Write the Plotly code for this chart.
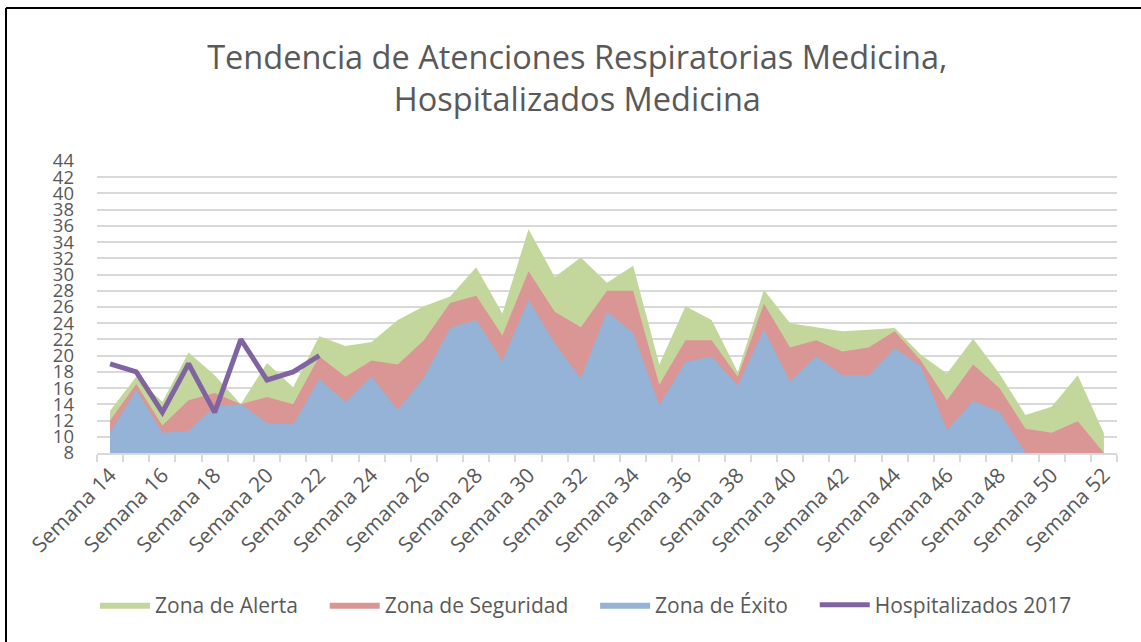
import plotly.graph_objects as go

weeks = [f"Semana {w}" for w in range(14, 53)]

alerta = [13.2, 17.4, 14.3, 20.4, 17.6, 14.0, 19.1, 16.1, 22.4, 21.2, 21.7, 24.4,
          26.1, 27.3, 30.9, 25.2, 35.6, 29.7, 32.1, 29.0, 31.1, 18.9, 26.1, 24.4,
          18.0, 28.1, 24.0, 23.5, 23.0, 23.2, 23.4, 20.1, 17.8, 22.1, 17.8, 12.7,
          13.7, 17.6, 10.4]
seguridad = [12.0, 16.5, 11.4, 14.5, 15.4, 14.0, 14.9, 14.0, 19.9, 17.4, 19.4, 18.9,
             21.9, 26.5, 27.4, 22.5, 30.4, 25.4, 23.5, 28.0, 28.0, 16.4, 21.9, 21.9,
             17.4, 26.4, 21.0, 21.9, 20.5, 21.0, 23.0, 19.4, 14.5, 18.9, 16.0, 11.0,
             10.5, 11.9, 8.0]
exito = [10.5, 15.8, 10.5, 10.7, 13.7, 14.0, 11.7, 11.5, 17.1, 14.3, 17.4, 13.3,
         17.3, 23.4, 24.4, 19.3, 26.9, 21.5, 17.2, 25.4, 22.8, 13.9, 19.2, 19.9,
         16.3, 23.2, 16.8, 19.9, 17.6, 17.6, 20.9, 18.7, 10.8, 14.4, 13.1, 8.0,
         8.0, 8.0, 8.0]
hosp_weeks = weeks[:9]
hospitalizados = [19, 18, 13, 19, 13, 22, 17, 18, 20]

tick_text = [w if i % 2 == 0 else "" for i, w in enumerate(weeks)]
y_ticks = list(range(8, 45, 2))

GRAY = "#595959"
FONT = "Open Sans"
PAD = "\u00a0" * 4

fig = go.Figure()
fig.add_trace(go.Scatter(x=weeks, y=alerta, name="Zona de Alerta" + PAD, mode="lines",
                         fill="tozeroy", fillcolor="#c3d69b", line=dict(width=0, color="#c3d69b")))
fig.add_trace(go.Scatter(x=weeks, y=seguridad, name="Zona de Seguridad" + PAD, mode="lines",
                         fill="tozeroy", fillcolor="#d99694", line=dict(width=0, color="#d99694")))
fig.add_trace(go.Scatter(x=weeks, y=exito, name="Zona de Éxito" + PAD, mode="lines",
                         fill="tozeroy", fillcolor="#95b3d7", line=dict(width=0, color="#95b3d7")))
fig.add_trace(go.Scatter(x=hosp_weeks, y=hospitalizados, name="Hospitalizados 2017", mode="lines",
                         line=dict(width=5, color="#8064a2")))

# border lines (top and left) in paper coords
L, R, T, B = 97, 24, 161, 189
W, H = 1141, 642
pw, ph = W - L - R, H - T - B
def px(x):
    return (x - L) / pw
def py(y):
    return (H - B - y) / ph

fig.add_shape(type="line", xref="paper", yref="paper", x0=px(6), x1=px(1141), y0=py(8), y1=py(8),
              line=dict(color="black", width=2))
fig.add_shape(type="line", xref="paper", yref="paper", x0=px(6), x1=px(6), y0=py(8), y1=py(642),
              line=dict(color="black", width=2))

fig.update_layout(
    width=W, height=H,
    margin=dict(l=L, r=R, t=T, b=B),
    paper_bgcolor="white", plot_bgcolor="white",
    font=dict(family=FONT, color=GRAY),
    title=dict(text="Tendencia de Atenciones Respiratorias Medicina,<br>Hospitalizados Medicina",
               x=0.506, xanchor="center", y=1 - 69 / H, yanchor="top",
               font=dict(size=32.5, color=GRAY, family=FONT)),
    showlegend=True,
    legend=dict(orientation="h", x=px(586), xanchor="center", y=py(605), yanchor="middle",
                font=dict(size=21, color=GRAY, family=FONT), traceorder="normal",
                itemwidth=50),
    xaxis=dict(type="category", categoryorder="array", categoryarray=weeks,
               range=[-0.5, len(weeks) - 0.5],
               tickmode="array", tickvals=weeks, ticktext=tick_text, tickangle=-45,
               tickson="boundaries", ticks="outside", ticklen=7, tickcolor="#d9d9d9",
               tickwidth=1.5, showline=True, linecolor="#d9d9d9", linewidth=1.5,
               showgrid=False, tickfont=dict(size=21, color=GRAY, family=FONT)),
    yaxis=dict(range=[8, 44], tickmode="array", tickvals=y_ticks,
               showgrid=True, gridcolor="#d9d9d9", gridwidth=1.5, zeroline=False,
               showline=False, ticks="", ticklabelstandoff=22,
               tickfont=dict(size=18.5, color=GRAY, family=FONT)),
)

fig.write_html("out.html", config={"displayModeBar": False},
               post_script="document.body.style.margin='0px';")
